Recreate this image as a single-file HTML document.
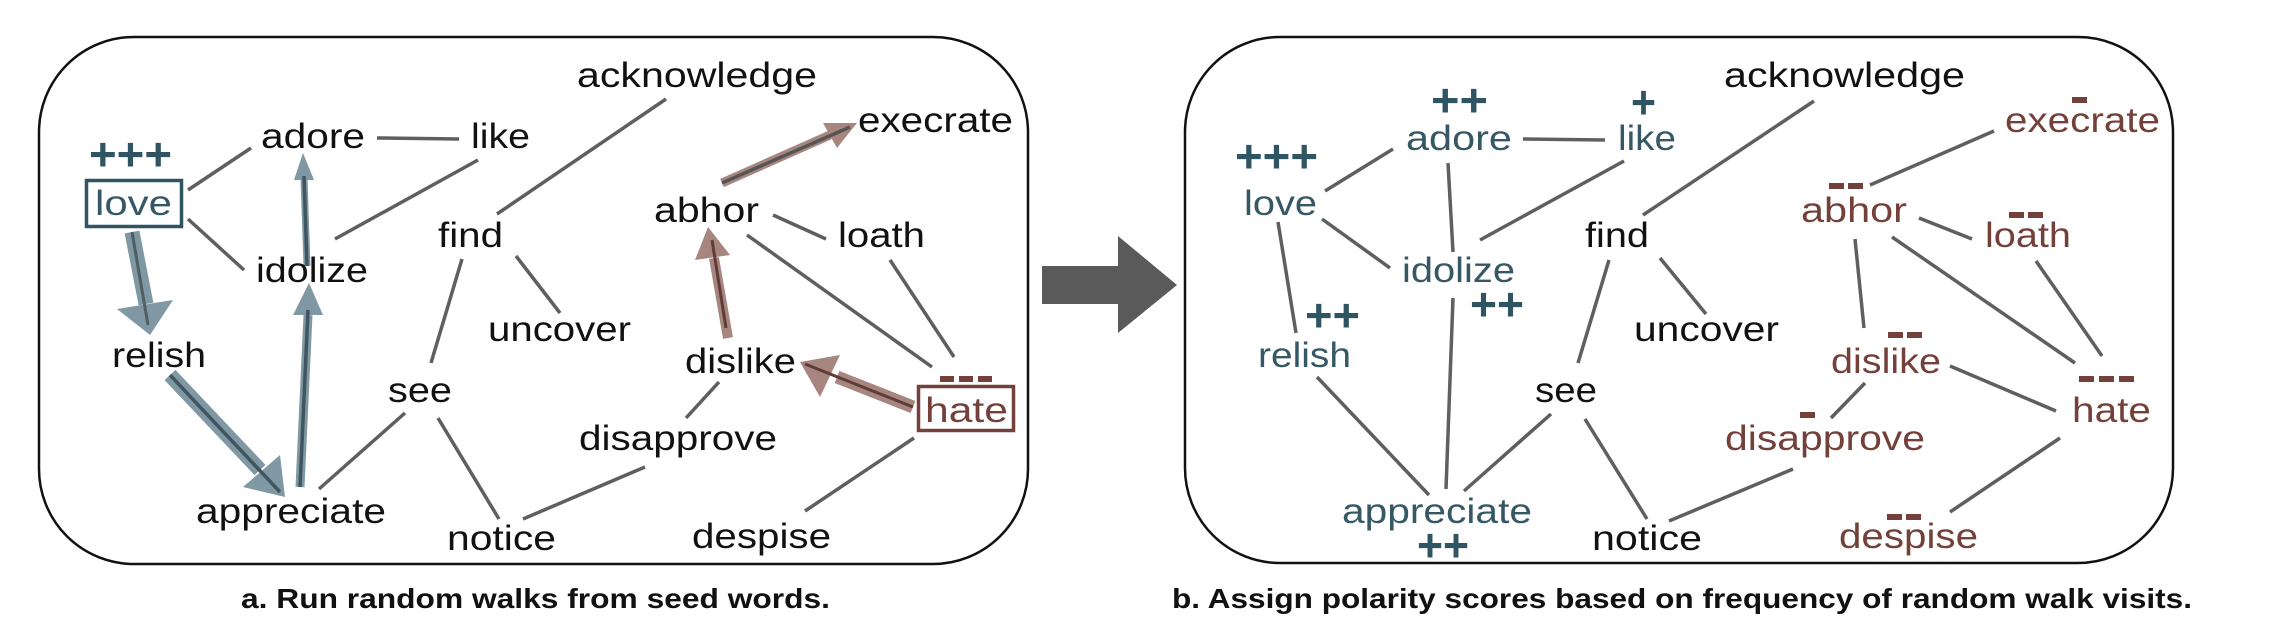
<!DOCTYPE html>
<html><head><meta charset="utf-8"><style>
html,body{margin:0;padding:0;background:#fff;}
svg{display:block;}
text{font-family:"Liberation Sans",sans-serif;}
.w{font-size:35px;fill:#111;}
.b{fill:#365865;}
.r{fill:#74413a;}
.p{font-size:46px;font-weight:bold;fill:#2f5563;}
.cap{font-size:28px;font-weight:bold;fill:#111;}
.e{stroke:#5f5f5f;stroke-width:3.5;fill:none;}
</style></head><body>
<svg width="2296" height="636" viewBox="0 0 2296 636" xmlns="http://www.w3.org/2000/svg">
<defs>
<marker id="hb" viewBox="0 0 10 10" refX="0" refY="5" markerWidth="10" markerHeight="10" orient="auto" markerUnits="strokeWidth"></marker>
</defs>
<!-- boxes -->
<rect x="39" y="37" width="989" height="527" rx="95" ry="95" fill="none" stroke="#111" stroke-width="2.5"/>
<rect x="1185" y="37" width="988" height="526" rx="95" ry="95" fill="none" stroke="#111" stroke-width="2.5"/>
<!-- big arrow -->
<polygon points="1042,266 1118,266 1118,236 1177,285 1118,333 1118,304 1042,304" fill="#5a5a5a"/>

<!-- LEFT edges -->
<g class="e">
<line x1="188" y1="190" x2="251" y2="148"/>
<line x1="188" y1="219" x2="244" y2="270"/>
<line x1="377" y1="138" x2="459" y2="139"/>
<line x1="335" y1="239" x2="478" y2="160"/>
<line x1="497" y1="214" x2="666" y2="99"/>
<line x1="516" y1="256" x2="560" y2="313"/>
<line x1="462" y1="259" x2="431" y2="363"/>
<line x1="405" y1="413" x2="319" y2="489"/>
<line x1="438" y1="418" x2="499" y2="519"/>
<line x1="523" y1="519" x2="645" y2="467"/>
<line x1="719" y1="382" x2="686" y2="418"/>
<line x1="773" y1="215" x2="826" y2="239"/>
<line x1="747" y1="235" x2="932" y2="367"/>
<line x1="890" y1="260" x2="954" y2="357"/>
<line x1="914" y1="438" x2="805" y2="511"/>
</g>
<!-- LEFT arrows blue -->
<g stroke-linecap="butt">
<line x1="132" y1="232" x2="146" y2="304" stroke="#7f98a3" stroke-width="15"/>
<polygon points="117,309 173,300 150,335" fill="#7f98a3"/>
<line x1="132" y1="232" x2="148" y2="325" stroke="#4f5e63" stroke-width="3"/>
<line x1="170" y1="375" x2="260" y2="470" stroke="#7f98a3" stroke-width="15"/>
<polygon points="243,487 280,455 285,497" fill="#7f98a3"/>
<line x1="170" y1="375" x2="280" y2="492" stroke="#3f5661" stroke-width="3.5"/>
<line x1="300" y1="487" x2="308" y2="315" stroke="#7f98a3" stroke-width="9"/>
<polygon points="293,315 323,315 309,283" fill="#7f98a3"/>
<line x1="300" y1="487" x2="308" y2="310" stroke="#3f5661" stroke-width="3.5"/>
<line x1="307" y1="266" x2="304" y2="178" stroke="#7f98a3" stroke-width="7"/>
<polygon points="294,180 314,180 303,153" fill="#7f98a3"/>
<line x1="307" y1="266" x2="304" y2="176" stroke="#3f5661" stroke-width="3.5"/>
</g>
<!-- LEFT arrows brown -->
<g>
<line x1="913" y1="407" x2="837" y2="377" stroke="#a88680" stroke-width="13"/>
<polygon points="840,355 820,397 800,362" fill="#a88680"/>
<line x1="913" y1="407" x2="805" y2="364" stroke="#5e3d38" stroke-width="3"/>
<line x1="728" y1="338" x2="714" y2="258" stroke="#a88680" stroke-width="10"/>
<polygon points="695,260 730,255 708,227" fill="#a88680"/>
<line x1="726" y1="328" x2="712" y2="240" stroke="#5e3d38" stroke-width="3"/>
<line x1="722" y1="183" x2="830" y2="135" stroke="#a88680" stroke-width="9"/>
<polygon points="823,123 837,148 857,123" fill="#a88680"/>
<line x1="722" y1="183" x2="850" y2="127" stroke="#555" stroke-width="3.5"/>
</g>

<!-- LEFT text -->
<text class="w" x="577" y="87" textLength="240" lengthAdjust="spacingAndGlyphs">acknowledge</text>
<text class="w" x="261" y="148" textLength="104" lengthAdjust="spacingAndGlyphs">adore</text>
<text class="w" x="471" y="148" textLength="59" lengthAdjust="spacingAndGlyphs">like</text>
<text class="w" x="858" y="132" textLength="155" lengthAdjust="spacingAndGlyphs">execrate</text>
<text class="p" x="89" y="170" textLength="83" lengthAdjust="spacingAndGlyphs">+++</text>
<rect x="86.5" y="180.5" width="95" height="46" fill="none" stroke="#2f5563" stroke-width="3.5"/>
<text class="w b" x="95" y="215" textLength="77" lengthAdjust="spacingAndGlyphs">love</text>
<text class="w" x="256" y="282" textLength="112" lengthAdjust="spacingAndGlyphs">idolize</text>
<text class="w" x="438" y="247" textLength="65" lengthAdjust="spacingAndGlyphs">find</text>
<text class="w" x="654" y="222" textLength="105" lengthAdjust="spacingAndGlyphs">abhor</text>
<text class="w" x="838" y="247" textLength="87" lengthAdjust="spacingAndGlyphs">loath</text>
<text class="w" x="112" y="367" textLength="94" lengthAdjust="spacingAndGlyphs">relish</text>
<text class="w" x="488" y="341" textLength="143" lengthAdjust="spacingAndGlyphs">uncover</text>
<text class="w" x="685" y="373" textLength="111" lengthAdjust="spacingAndGlyphs">dislike</text>
<text class="w" x="388" y="402" textLength="64" lengthAdjust="spacingAndGlyphs">see</text>
<rect x="940" y="376" width="14" height="6" fill="#74413a"/>
<rect x="959" y="376" width="14" height="6" fill="#74413a"/>
<rect x="978" y="376" width="14" height="6" fill="#74413a"/>
<rect x="918.5" y="386.5" width="95" height="44" fill="none" stroke="#74413a" stroke-width="3.5"/>
<text class="w r" x="925" y="422" textLength="83" lengthAdjust="spacingAndGlyphs">hate</text>
<text class="w" x="579" y="450" textLength="198" lengthAdjust="spacingAndGlyphs">disapprove</text>
<text class="w" x="196" y="523" textLength="190" lengthAdjust="spacingAndGlyphs">appreciate</text>
<text class="w" x="447" y="550" textLength="109" lengthAdjust="spacingAndGlyphs">notice</text>
<text class="w" x="692" y="548" textLength="139" lengthAdjust="spacingAndGlyphs">despise</text>
<text class="cap" x="241" y="608" textLength="589" lengthAdjust="spacingAndGlyphs">a. Run random walks from seed words.</text>

<!-- RIGHT edges -->
<g class="e">
<line x1="1325" y1="191" x2="1393" y2="149"/>
<line x1="1322" y1="219" x2="1390" y2="268"/>
<line x1="1278" y1="222" x2="1296" y2="333"/>
<line x1="1523" y1="139" x2="1605" y2="140"/>
<line x1="1448" y1="163" x2="1453" y2="252"/>
<line x1="1480" y1="240" x2="1624" y2="161"/>
<line x1="1453" y1="298" x2="1446" y2="489"/>
<line x1="1317" y1="377" x2="1429" y2="495"/>
<line x1="1643" y1="215" x2="1814" y2="101"/>
<line x1="1660" y1="258" x2="1706" y2="314"/>
<line x1="1609" y1="260" x2="1578" y2="363"/>
<line x1="1551" y1="414" x2="1464" y2="491"/>
<line x1="1585" y1="419" x2="1647" y2="519"/>
<line x1="1669" y1="521" x2="1793" y2="469"/>
<line x1="1994" y1="131" x2="1870" y2="185"/>
<line x1="1919" y1="218" x2="1972" y2="239"/>
<line x1="1855" y1="239" x2="1864" y2="328"/>
<line x1="1892" y1="237" x2="2075" y2="363"/>
<line x1="2036" y1="261" x2="2102" y2="356"/>
<line x1="1950" y1="366" x2="2056" y2="411"/>
<line x1="1865" y1="383" x2="1831" y2="418"/>
<line x1="2060" y1="438" x2="1950" y2="512"/>
</g>
<!-- RIGHT text -->
<text class="w" x="1724" y="87" textLength="241" lengthAdjust="spacingAndGlyphs">acknowledge</text>
<text class="p" x="1431" y="116" textLength="57" lengthAdjust="spacingAndGlyphs">++</text>
<text class="w b" x="1406" y="150" textLength="106" lengthAdjust="spacingAndGlyphs">adore</text>
<text class="p" x="1631" y="118" textLength="25" lengthAdjust="spacingAndGlyphs">+</text>
<text class="w b" x="1618" y="150" textLength="58" lengthAdjust="spacingAndGlyphs">like</text>
<rect x="2072" y="97" width="15" height="6" fill="#74413a"/>
<text class="w r" x="2005" y="132" textLength="155" lengthAdjust="spacingAndGlyphs">execrate</text>
<text class="p" x="1235" y="172" textLength="83" lengthAdjust="spacingAndGlyphs">+++</text>
<text class="w b" x="1244" y="215" textLength="73" lengthAdjust="spacingAndGlyphs">love</text>
<rect x="1829" y="183" width="15" height="6" fill="#74413a"/>
<rect x="1848" y="183" width="15" height="6" fill="#74413a"/>
<text class="w r" x="1801" y="222" textLength="106" lengthAdjust="spacingAndGlyphs">abhor</text>
<rect x="2009" y="212" width="15" height="6" fill="#74413a"/>
<rect x="2028" y="212" width="15" height="6" fill="#74413a"/>
<text class="w r" x="1985" y="247" textLength="86" lengthAdjust="spacingAndGlyphs">loath</text>
<text class="w" x="1585" y="247" textLength="64" lengthAdjust="spacingAndGlyphs">find</text>
<text class="w b" x="1402" y="282" textLength="113" lengthAdjust="spacingAndGlyphs">idolize</text>
<text class="p" x="1470" y="320" textLength="54" lengthAdjust="spacingAndGlyphs">++</text>
<text class="p" x="1305" y="331" textLength="55" lengthAdjust="spacingAndGlyphs">++</text>
<text class="w b" x="1258" y="367" textLength="93" lengthAdjust="spacingAndGlyphs">relish</text>
<text class="w" x="1634" y="341" textLength="145" lengthAdjust="spacingAndGlyphs">uncover</text>
<rect x="1888" y="332" width="15" height="6" fill="#74413a"/>
<rect x="1907" y="332" width="15" height="6" fill="#74413a"/>
<text class="w r" x="1831" y="373" textLength="110" lengthAdjust="spacingAndGlyphs">dislike</text>
<rect x="2079" y="376" width="15" height="6" fill="#74413a"/>
<rect x="2099" y="376" width="15" height="6" fill="#74413a"/>
<rect x="2119" y="376" width="15" height="6" fill="#74413a"/>
<text class="w r" x="2072" y="422" textLength="79" lengthAdjust="spacingAndGlyphs">hate</text>
<text class="w" x="1535" y="402" textLength="62" lengthAdjust="spacingAndGlyphs">see</text>
<rect x="1800" y="412" width="15" height="6" fill="#74413a"/>
<text class="w r" x="1725" y="450" textLength="200" lengthAdjust="spacingAndGlyphs">disapprove</text>
<text class="w b" x="1342" y="523" textLength="190" lengthAdjust="spacingAndGlyphs">appreciate</text>
<text class="p" x="1417" y="561" textLength="52" lengthAdjust="spacingAndGlyphs">++</text>
<text class="w" x="1592" y="550" textLength="110" lengthAdjust="spacingAndGlyphs">notice</text>
<rect x="1887" y="514" width="15" height="6" fill="#74413a"/>
<rect x="1906" y="514" width="15" height="6" fill="#74413a"/>
<text class="w r" x="1839" y="548" textLength="139" lengthAdjust="spacingAndGlyphs">despise</text>
<text class="cap" x="1172" y="608" textLength="1020" lengthAdjust="spacingAndGlyphs">b. Assign polarity scores based on frequency of random walk visits.</text>
</svg>
</body></html>
